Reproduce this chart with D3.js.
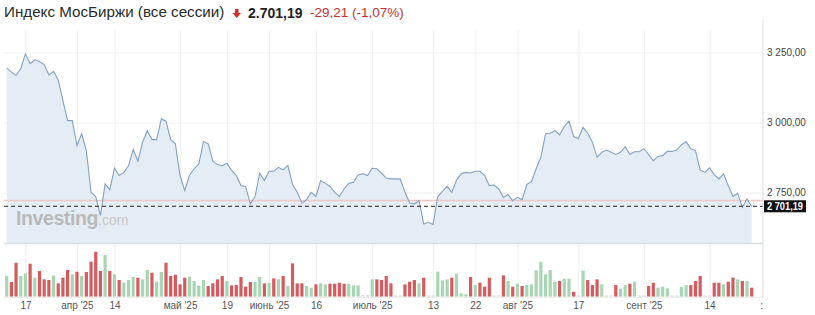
<!DOCTYPE html>
<html>
<head>
<meta charset="utf-8">
<script src="https://cdn.jsdelivr.net/npm/d3@7"></script>
<style>
  html, body { margin: 0; padding: 0; background: #fff; }
  svg { display: block; font-family: "Liberation Sans", Arial, sans-serif; }
</style>
</head>
<body>
<svg id="chart" width="815" height="315"></svg>
<script>
// --- data ---
const title = 'Индекс МосБиржи (все сессии)';
const lastClose = 2701.19;
const change = -29.21;
const changePct = -1.07;
const refLevel = 2722; // faint red reference line

// daily closes, one per session
const closes = [
  3195, 3180, 3168, 3192, 3245, 3210, 3224, 3218, 3207, 3170,
  3183, 3152, 3078, 3007, 3007, 2918, 2960, 2900, 2751, 2736,
  2668, 2781, 2760, 2837, 2811, 2822, 2846, 2904, 2862, 2930,
  2971, 2939, 2939, 3013, 3005, 2939, 2924, 2811, 2757, 2811,
  2835, 2852, 2932, 2924, 2862, 2850, 2846, 2855, 2829, 2811,
  2775, 2771, 2710, 2736, 2819, 2793, 2826, 2826, 2840, 2831,
  2847, 2779, 2751, 2713, 2725, 2751, 2736, 2793, 2783, 2772,
  2751, 2736, 2763, 2783, 2787, 2813, 2817, 2811, 2837, 2835,
  2819, 2802, 2799, 2799, 2798, 2751, 2713, 2710, 2721, 2638,
  2644, 2636, 2736, 2754, 2772, 2751, 2795, 2817, 2822, 2820,
  2826, 2826, 2811, 2775, 2777, 2763, 2733, 2743, 2721, 2733,
  2725, 2779, 2789, 2835, 2876, 2960, 2962, 2971, 2956, 2986,
  3005, 2950, 2942, 2983, 2962, 2930, 2876, 2894, 2902, 2894,
  2886, 2894, 2914, 2886, 2896, 2896, 2906, 2886, 2864, 2879,
  2882, 2897, 2897, 2902, 2920, 2932, 2906, 2900, 2831, 2822,
  2838, 2814, 2799, 2817, 2775, 2736, 2747, 2697, 2727, 2701.19
];

// session volume (relative units)
const volumes = [
  62, 44, 102, 62, 70, 99, 57, 77, 52, 50,
  64, 40, 57, 80, 67, 75, 62, 74, 105, 135,
  77, 125, 77, 67, 50, 42, 50, 59, 57, 52,
  80, 72, 45, 74, 102, 62, 66, 37, 57, 60,
  47, 34, 50, 32, 40, 52, 62, 47, 34, 35,
  59, 30, 44, 44, 59, 40, 42, 55, 52, 62,
  32, 100, 40, 40, 32, 27, 37, 40, 37, 39,
  39, 42, 39, 39, 34, 34, 5, 5, 52, 52,
  50, 62, 40, 4, 4, 37, 45, 50, 40, 57,
  4, 4, 75, 49, 52, 57, 69, 10, 7, 59,
  35, 42, 30, 57, 4, 4, 64, 47, 30, 39,
  32, 35, 37, 79, 105, 67, 80, 45, 47, 54,
  54, 15, 4, 78, 50, 35, 52, 37, 4, 4,
  35, 24, 35, 39, 45, 4, 4, 32, 42, 27,
  30, 25, 4, 4, 30, 35, 35, 47, 62, 4,
  4, 42, 42, 37, 45, 57, 52, 47, 47, 27
];

// 1 = up session (green), 0 = down session (red)
const volUp = [
  1, 0, 0, 1, 1, 0, 1, 0, 0, 0,
  1, 0, 0, 0, 1, 0, 1, 0, 0, 0,
  0, 1, 0, 1, 0, 1, 1, 1, 0, 1,
  1, 0, 1, 1, 0, 0, 0, 0, 0, 1,
  1, 1, 1, 0, 0, 0, 0, 1, 0, 0,
  0, 0, 0, 1, 1, 0, 1, 0, 1, 0,
  1, 0, 0, 0, 1, 1, 0, 1, 1, 0,
  0, 0, 0, 1, 1, 1, 1, 1, 1, 0,
  0, 0, 0, 0, 0, 0, 0, 0, 1, 0,
  1, 1, 1, 1, 1, 0, 1, 1, 1, 0,
  1, 0, 0, 0, 1, 1, 0, 1, 0, 1,
  0, 1, 1, 1, 1, 1, 1, 1, 0, 1,
  1, 0, 1, 1, 0, 0, 0, 1, 1, 1,
  0, 1, 1, 0, 1, 1, 1, 0, 0, 1,
  1, 1, 1, 1, 1, 1, 0, 0, 0, 1,
  1, 0, 0, 1, 0, 0, 1, 0, 1, 0
];

// x-axis labels and the session index they sit on
const tickIndex = [4, 15, 23, 37, 47, 56, 66, 78, 91, 100, 109, 122, 136, 150, 161];
const tickLabels = ['17', "апр '25", '14', "май '25", '19', "июнь '25", '16', "июль '25",
  '13', '22', "авг '25", '17', "сент '25", '14', ':'];

const yTicks = [2750, 3000, 3250];

// --- layout ---
const svg = d3.select('#chart');
const plotLeft = 4, plotRight = 763;
const plotTop = 30, priceBottom = 243.5, volBottom = 296.7;

const x = d3.scaleLinear().domain([0, closes.length - 1]).range([6.7, 751.7]);
const y = d3.scaleLinear().domain([2750, 3250]).range([192.6, 52.5]);
const yVol = d3.scaleLinear().domain([0, 135]).range([volBottom, 251.7]);

const ruFmt = d3.formatLocale({ decimal: ',', thousands: '\u00a0', grouping: [3], currency: ['', ''] }).format(',.2f');
const titleFmt = d3.formatLocale({ decimal: ',', thousands: '.', grouping: [3], currency: ['', ''] }).format(',.2f');
const chgFmt = d3.formatLocale({ decimal: ',', thousands: '.', grouping: [3], currency: ['', ''], minus: '-' }).format('.2f');

// title
svg.append('text')
  .attr('x', 4).attr('y', 17)
  .style('font-size', '15.2px').attr('fill', '#2b2b2b')
  .text(title);

svg.append('path') // small red down arrow
  .attr('d', 'M235,9 h3.5 v4 h2.5 l-4.25,5 l-4.25,-5 h2.5 z')
  .attr('fill', '#d0312d');

svg.append('text')
  .attr('x', 248).attr('y', 17.5)
  .style('font-size', '14px').style('font-weight', 'bold').attr('fill', '#222')
  .text(titleFmt(lastClose));

svg.append('text')
  .attr('x', 310).attr('y', 17)
  .style('font-size', '13.5px').attr('fill', '#c8302c')
  .text(`${chgFmt(change)} (${chgFmt(changePct)}%)`);

// gridlines
const grid = svg.append('g');
grid.append('g')
  .attr('transform', `translate(0,${volBottom})`)
  .call(d3.axisBottom(x).tickValues(tickIndex.slice(0, -1)).tickSize(-(volBottom - plotTop)).tickFormat(''))
  .call(g => g.select('.domain').remove())
  .selectAll('line').attr('stroke', '#f0f0f0');

grid.append('g')
  .attr('transform', `translate(${plotRight},0)`)
  .call(d3.axisRight(y).tickValues(yTicks).tickSize(-(plotRight - plotLeft)).tickFormat(''))
  .call(g => g.select('.domain').remove())
  .selectAll('line').attr('stroke', '#efefef');

// price area + line
const idx = d3.range(closes.length);
svg.append('path')
  .datum(idx)
  .attr('fill', '#e4edf6')
  .attr('d', d3.area().x(i => x(i)).y0(priceBottom).y1(i => y(closes[i])));

svg.append('line')
  .attr('x1', plotLeft).attr('x2', plotRight)
  .attr('y1', priceBottom).attr('y2', priceBottom)
  .attr('stroke', '#d9dee4').attr('stroke-width', 1.5);

svg.append('line')
  .attr('x1', plotLeft).attr('x2', plotRight)
  .attr('y1', y(refLevel)).attr('y2', y(refLevel))
  .attr('stroke', '#f1c6c6').attr('stroke-width', 1.5);

svg.append('path')
  .datum(idx)
  .attr('fill', 'none')
  .attr('stroke', '#84a1c2')
  .attr('stroke-width', 1.1)
  .attr('d', d3.line().x(i => x(i)).y(i => y(closes[i])));

// watermark
const wm = svg.append('text').attr('x', 16).attr('y', 225);
wm.append('tspan').text('Investing')
  .style('font-size', '19.5px').style('font-weight', 'bold').style('letter-spacing', '-0.4px')
  .attr('fill', '#b9b9b9');
wm.append('tspan').text('.com')
  .style('font-size', '14px').attr('fill', '#c9c9c9');

// last price dashed line
svg.append('line')
  .attr('x1', plotLeft).attr('x2', plotRight)
  .attr('y1', y(lastClose)).attr('y2', y(lastClose))
  .attr('stroke', '#222').attr('stroke-dasharray', '4,3');

// volume bars
svg.append('g')
  .selectAll('rect')
  .data(idx)
  .join('rect')
  .attr('x', i => x(i) - 1.6)
  .attr('width', 3.2)
  .attr('y', i => yVol(volumes[i]))
  .attr('height', i => volBottom - yVol(volumes[i]))
  .attr('fill', i => volumes[i] < 6 ? '#dcdcdc' : (volUp[i] ? '#a8d5b4' : '#d65a5e'));

// bottom baseline + right axis line
svg.append('line')
  .attr('x1', plotLeft).attr('x2', plotRight)
  .attr('y1', volBottom + 0.5).attr('y2', volBottom + 0.5)
  .attr('stroke', '#e6e6e6');
svg.append('line')
  .attr('x1', plotRight).attr('x2', plotRight)
  .attr('y1', plotTop - 10).attr('y2', volBottom + 1)
  .attr('stroke', '#dddddd');

// y axis labels
svg.append('g')
  .attr('transform', `translate(${plotRight},0)`)
  .call(d3.axisRight(y).tickValues(yTicks).tickSize(0).tickPadding(4).tickFormat(ruFmt))
  .call(g => g.select('.domain').remove())
  .selectAll('text')
  .style('font-size', '10px').style('font-family', '"Liberation Sans", Arial, sans-serif')
  .attr('fill', '#444');

// last price tag
const tag = svg.append('g').attr('transform', `translate(${plotRight + 1},${y(lastClose)})`);
tag.append('rect').attr('x', 0).attr('y', -6).attr('width', 42).attr('height', 12).attr('fill', '#111');
tag.append('text').attr('x', 3).attr('y', 3.8)
  .style('font-size', '10.5px').style('font-weight', 'bold').attr('fill', '#fff')
  .attr('textLength', 36).attr('lengthAdjust', 'spacingAndGlyphs')
  .text(ruFmt(lastClose));

// x axis labels
svg.append('g')
  .attr('transform', `translate(0,${volBottom})`)
  .call(d3.axisBottom(x).tickValues(tickIndex).tickSize(0).tickPadding(5)
    .tickFormat((d, i) => tickLabels[i]))
  .call(g => g.select('.domain').remove())
  .selectAll('text')
  .style('font-size', '10px').style('font-family', '"Liberation Sans", Arial, sans-serif')
  .attr('fill', '#555');
</script>
</body>
</html>
